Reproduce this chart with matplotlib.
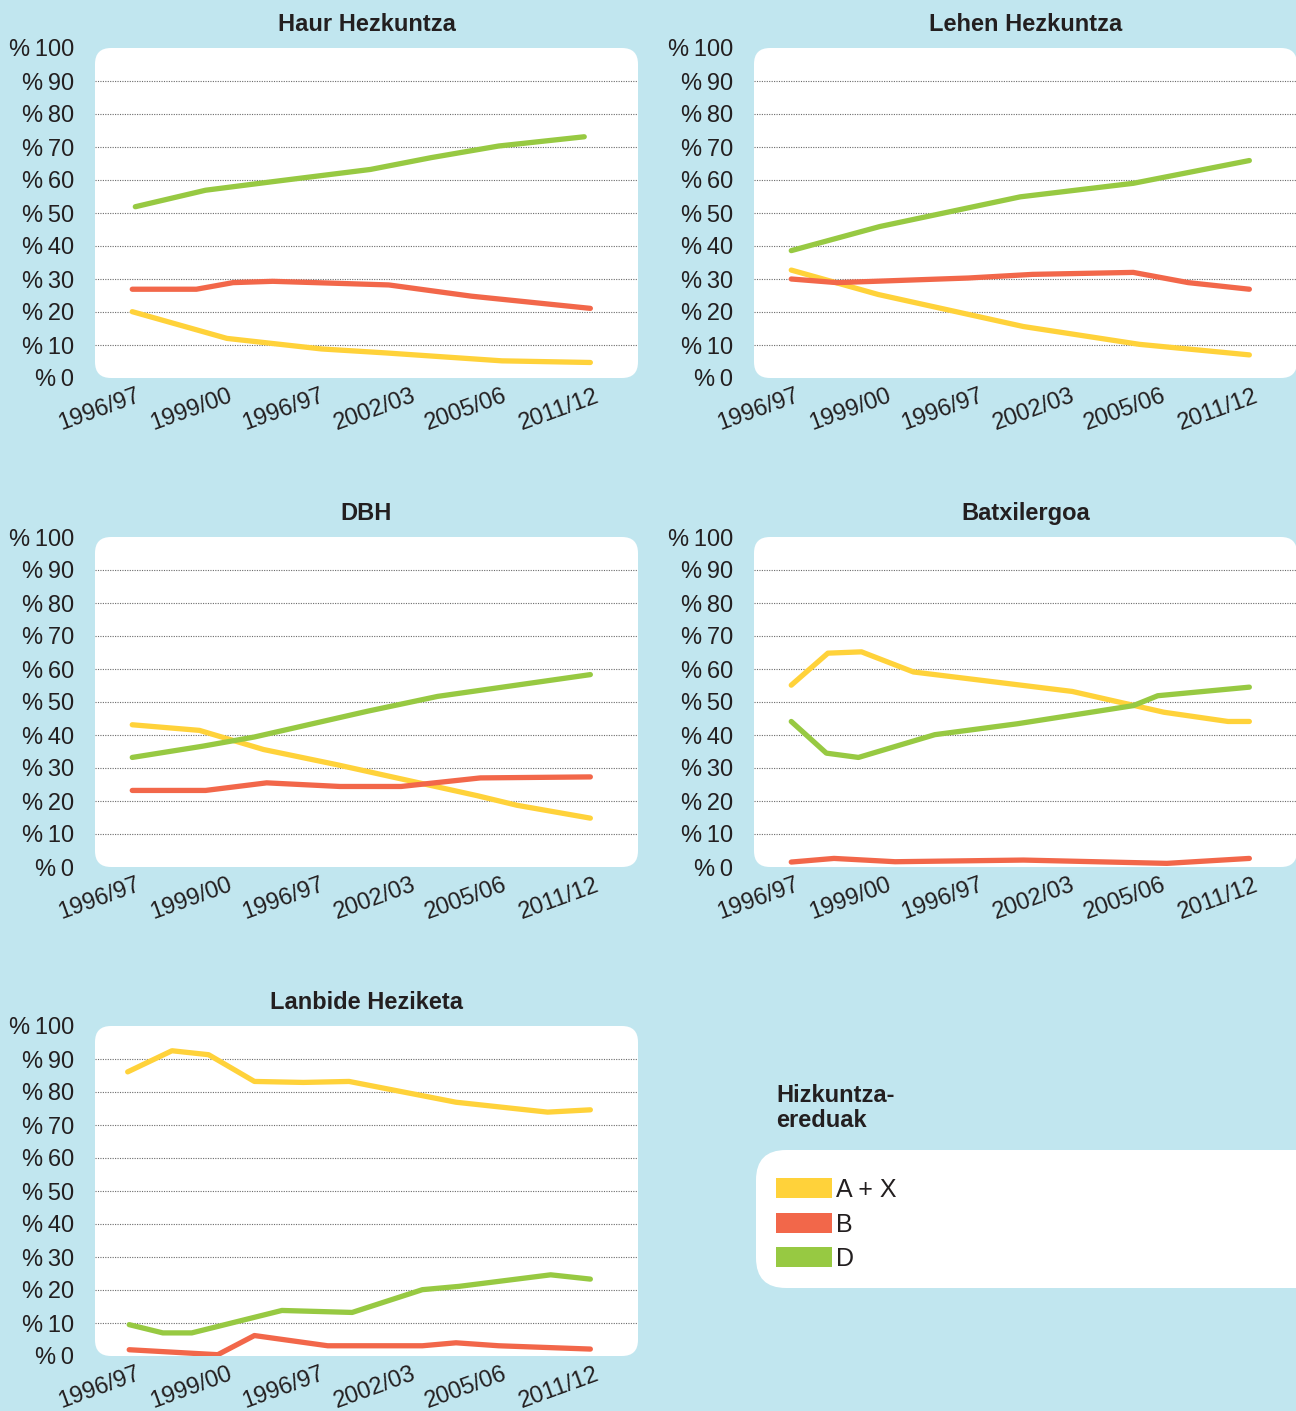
import matplotlib.pyplot as plt
from matplotlib.patches import FancyBboxPatch, Patch
from matplotlib.transforms import ScaledTranslation, IdentityTransform

plt.rcParams['font.family'] = ['Liberation Sans', 'DejaVu Sans']

BG = '#c1e6ef'
TXT = '#231f20'
C_AX = '#ffd23a'
C_B = '#f2674a'
C_D = '#97c942'

# x = school year index (0 = 1996/97 ... 15 = 2011/12)
tick_pos = [0, 3, 6, 9, 12, 15]
tick_labels = ['1996/97', '1999/00', '1996/97', '2002/03', '2005/06', '2011/12']
y_ticks = [0, 10, 20, 30, 40, 50, 60, 70, 80, 90, 100]
y_labels = [f'%\u2009{v}' for v in y_ticks]

series_names = ['A + X', 'B', 'D']
series_colors = [C_AX, C_B, C_D]

# Haur Hezkuntza
haur_ax_x = [0, 3.1, 6.2, 8.3, 12.1, 15]
haur_ax_y = [20.1, 12.0, 8.8, 7.6, 5.2, 4.7]
haur_b_x = [0, 2.1, 3.3, 4.6, 8.4, 11.1, 15]
haur_b_y = [26.9, 26.9, 28.9, 29.3, 28.2, 24.8, 21.1]
haur_d_x = [0.1, 2.4, 4.6, 7.8, 9.8, 12.0, 14.8]
haur_d_y = [51.9, 56.9, 59.5, 63.2, 66.8, 70.3, 73.1]

# Lehen Hezkuntza
lehen_ax_x = [0, 2.85, 7.6, 11.4, 15]
lehen_ax_y = [32.7, 25.3, 15.6, 10.2, 7.0]
lehen_b_x = [0, 1.5, 5.8, 7.9, 11.2, 13.0, 15]
lehen_b_y = [30.0, 28.9, 30.3, 31.4, 32.0, 28.9, 26.9]
lehen_d_x = [0, 2.9, 7.5, 11.2, 15]
lehen_d_y = [38.6, 45.9, 54.9, 59.0, 65.9]

# DBH
dbh_ax_x = [0, 2.2, 4.3, 6.7, 11.3, 12.6, 15]
dbh_ax_y = [43.1, 41.4, 35.6, 31.0, 21.6, 18.7, 14.8]
dbh_b_x = [0, 2.4, 4.4, 6.8, 8.8, 11.4, 15]
dbh_b_y = [23.2, 23.2, 25.5, 24.4, 24.4, 27.0, 27.3]
dbh_d_x = [0, 2.3, 4.0, 7.7, 10.0, 15]
dbh_d_y = [33.2, 36.6, 39.4, 47.2, 51.7, 58.3]

# Batxilergoa
batx_ax_x = [0, 1.2, 2.3, 4.0, 9.2, 12.2, 14.3, 15]
batx_ax_y = [55.1, 64.8, 65.2, 59.1, 53.2, 46.9, 44.1, 44.1]
batx_b_x = [0, 1.4, 3.4, 7.6, 12.3, 15]
batx_b_y = [1.5, 2.6, 1.6, 2.1, 1.1, 2.6]
batx_d_x = [0, 1.15, 2.2, 4.7, 7.4, 11.2, 12.0, 15]
batx_d_y = [44.1, 34.5, 33.2, 40.1, 43.4, 48.9, 51.9, 54.5]

# Lanbide Heziketa
lanb_ax_x = [-0.15, 1.3, 2.5, 4.0, 5.6, 7.1, 10.6, 13.6, 15]
lanb_ax_y = [86.1, 92.5, 91.3, 83.2, 82.9, 83.2, 76.9, 73.9, 74.6]
lanb_b_x = [-0.1, 2.4, 2.8, 4.0, 6.4, 9.5, 10.6, 12.0, 15]
lanb_b_y = [1.9, 0.6, 0.4, 6.2, 3.1, 3.1, 4.0, 3.1, 2.1]
lanb_d_x = [-0.1, 1.0, 1.95, 4.9, 7.2, 9.5, 10.7, 13.7, 15]
lanb_d_y = [9.5, 7.0, 7.0, 13.8, 13.2, 20.1, 21.1, 24.6, 23.3]

panels = [
    ('Haur Hezkuntza', 0, 0, [(haur_ax_x, haur_ax_y), (haur_b_x, haur_b_y), (haur_d_x, haur_d_y)]),
    ('Lehen Hezkuntza', 0, 1, [(lehen_ax_x, lehen_ax_y), (lehen_b_x, lehen_b_y), (lehen_d_x, lehen_d_y)]),
    ('DBH', 1, 0, [(dbh_ax_x, dbh_ax_y), (dbh_b_x, dbh_b_y), (dbh_d_x, dbh_d_y)]),
    ('Batxilergoa', 1, 1, [(batx_ax_x, batx_ax_y), (batx_b_x, batx_b_y), (batx_d_x, batx_d_y)]),
    ('Lanbide Heziketa', 2, 0, [(lanb_ax_x, lanb_ax_y), (lanb_b_x, lanb_b_y), (lanb_d_x, lanb_d_y)]),
]

W, H = 1296, 1411
fig = plt.figure(figsize=(W / 100, H / 100), dpi=100, facecolor=BG)

col_x = [95, 754]
row_y = [48, 537, 1026]
bw, bh = 543, 330

for title, r, c, data in panels:
    x0, y0 = col_x[c], row_y[r]
    ax = fig.add_axes([x0 / W, 1 - (y0 + bh) / H, bw / W, bh / H])
    ax.patch.set_visible(False)
    box = FancyBboxPatch((x0, H - (y0 + bh)), bw, bh, boxstyle='round,pad=0,rounding_size=16',
                         transform=IdentityTransform(), facecolor='white', edgecolor='none', zorder=-1)
    fig.add_artist(box)

    for v in range(10, 100, 10):
        ax.axhline(v, color='#6a6a6a', lw=0.8, linestyle=(0, (1, 1.2)), zorder=1)

    for (xs, ys), col in zip(data, series_colors):
        ax.plot(xs, ys, color=col, lw=3.8, solid_capstyle='round', solid_joinstyle='round', zorder=3)

    ax.set_xlim(-1.22, 16.56)
    ax.set_ylim(0, 100)
    for s in ax.spines.values():
        s.set_visible(False)

    ax.set_yticks(y_ticks, y_labels)
    ax.tick_params(length=0, labelsize=17, labelcolor=TXT)
    ax.tick_params(axis='y', pad=15)
    ax.tick_params(axis='x', pad=5)
    ax.set_xticks(tick_pos, tick_labels, rotation=20, ha='right', rotation_mode='anchor')
    for lab in ax.get_xticklabels():
        lab.set_transform(lab.get_transform() + ScaledTranslation(0.04, 0, fig.dpi_scale_trans))

    ax.set_title(title, fontsize=17, fontweight='bold', color=TXT, pad=12)

# legend panel
leg_box = FancyBboxPatch((756, H - 1288), 620, 138, boxstyle='round,pad=0,rounding_size=30',
                         transform=IdentityTransform(), facecolor='white', edgecolor='none', zorder=-1)
fig.add_artist(leg_box)
fig.text(776 / W, 1 - 1084 / H, 'Hizkuntza-\nereduak', ha='left', va='top', fontsize=17,
         fontweight='bold', color=TXT, linespacing=1.1)
handles = [Patch(facecolor=col, edgecolor='none', label=name) for name, col in zip(series_names, series_colors)]
fig.legend(handles=handles, loc='upper left', bbox_to_anchor=(776 / W, 1 - 1178 / H), frameon=False,
           fontsize=18, handlelength=2.24, handleheight=0.84, handletextpad=0.16, labelspacing=0.42,
           borderpad=0, borderaxespad=0, labelcolor=TXT)

fig.savefig('out.png', dpi=100, facecolor=BG)
